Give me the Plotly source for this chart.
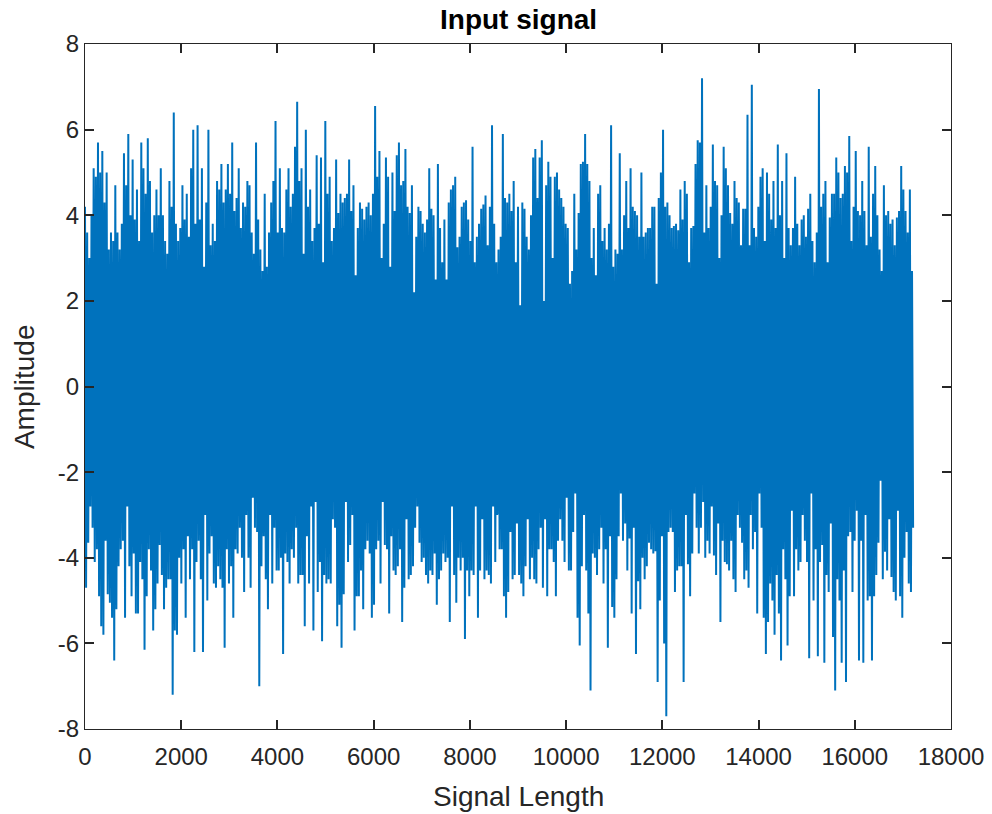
import numpy as np
import plotly.graph_objects as go

# Upper excursions of the signal, read column by column (every ~45 samples)
upper_peaks = [
    4.2, 3.6, 3.0, 4.0, 5.1, 4.9, 5.7, 5.0, 5.5, 4.3, 5.0, 3.2,
    3.6, 3.4, 4.7, 3.6, 3.2, 3.8, 5.45, 4.7, 5.9, 4.0, 5.3, 3.9,
    4.6, 3.4, 5.7, 5.1, 4.5, 5.8, 4.8, 3.6, 4.0, 4.6, 4.0, 5.1,
    4.0, 3.4, 3.1, 4.8, 4.2, 6.4, 3.8, 3.4, 3.7, 4.7, 3.9, 4.5,
    3.5, 5.1, 6.0, 3.8, 6.1, 3.9, 5.1, 2.8, 4.3, 6.0, 3.3, 3.8,
    3.4, 4.8, 4.6, 5.2, 4.3, 4.6, 5.2, 4.5, 5.7, 4.1, 4.4, 5.1,
    3.7, 4.3, 4.2, 4.8, 4.7, 3.6, 3.1, 5.7, 3.9, 3.2, 2.7, 4.5,
    2.8, 3.6, 4.3, 4.8, 6.2, 3.6, 5.1, 3.7, 3.6, 4.6, 5.1, 4.2,
    4.5, 5.6, 6.65, 4.8, 5.1, 3.1, 6.0, 4.2, 4.6, 3.4, 3.7, 5.4,
    3.8, 5.35, 2.9, 6.2, 4.5, 4.9, 3.4, 3.7, 5.3, 4.05, 4.5, 4.3,
    4.4, 4.5, 5.3, 4.1, 4.7, 2.6, 3.7, 4.3, 4.15, 3.9, 4.2, 4.3,
    4.0, 4.5, 6.55, 4.9, 5.5, 3.0, 3.8, 5.35, 4.9, 2.8, 5.0, 4.1,
    5.4, 5.7, 4.7, 4.8, 5.55, 4.2, 4.05, 4.7, 2.2, 3.5, 4.2, 4.1,
    3.8, 3.6, 3.9, 5.1, 4.15, 4.0, 2.5, 5.2, 3.7, 2.9, 3.9, 2.5,
    4.3, 4.6, 4.7, 4.9, 3.25, 3.5, 4.2, 4.3, 4.35, 3.9, 3.4, 5.6,
    2.9, 3.5, 3.8, 4.15, 4.25, 4.46, 3.3, 4.2, 6.1, 3.8, 2.9, 3.2,
    3.5, 5.9, 4.4, 4.3, 4.5, 4.1, 4.8, 2.9, 4.2, 1.9, 4.3, 4.15,
    3.5, 3.2, 4.0, 5.35, 5.55, 4.4, 5.35, 5.75, 2.0, 4.7, 5.25, 4.9,
    3.0, 4.9, 5.0, 4.6, 4.4, 4.2, 3.8, 3.7, 2.4, 2.7, 4.5, 3.2,
    4.05, 5.2, 5.25, 5.9, 5.2, 4.8, 3.0, 3.7, 2.6, 4.5, 4.7, 3.4,
    3.7, 3.2, 3.8, 6.1, 2.8, 3.2, 3.1, 5.45, 3.2, 4.0, 4.8, 3.7,
    5.1, 4.2, 4.1, 4.0, 3.5, 5.0, 3.5, 3.6, 3.7, 3.7, 4.2, 4.2,
    2.4, 4.4, 5.0, 6.0, 4.2, 4.3, 4.0, 3.7, 3.75, 3.8, 3.65, 4.6,
    3.9, 4.8, 4.5, 2.9, 3.7, 3.75, 5.2, 5.75, 5.7, 7.2, 3.6, 4.7,
    3.7, 4.2, 5.65, 4.8, 4.7, 3.0, 4.0, 5.6, 5.1, 4.7, 4.05, 3.8,
    4.8, 4.4, 4.3, 3.3, 4.15, 4.15, 6.35, 3.3, 7.05, 3.7, 3.5, 4.2,
    4.9, 5.1, 3.4, 5.0, 4.5, 3.9, 4.8, 3.7, 5.65, 4.0, 4.8, 3.0,
    5.45, 3.7, 3.3, 3.7, 4.9, 3.8, 3.3, 3.9, 4.0, 3.5, 4.15, 4.5,
    3.4, 2.9, 3.6, 6.95, 4.2, 4.5, 4.8, 2.9, 3.95, 4.5, 4.5, 5.35,
    5.0, 4.4, 4.5, 5.15, 5.0, 5.85, 3.4, 4.2, 5.5, 4.1, 4.0, 4.8,
    4.1, 3.3, 5.6, 3.5, 4.5, 5.15, 4.0, 3.2, 2.7, 4.7, 4.0, 4.1,
    3.8, 3.9, 3.3, 3.95, 4.1, 5.15, 4.6, 4.1, 3.6, 4.6, 2.7,
]

# Lower excursions of the signal, same columns
lower_peaks = [
    -4.7, -3.65, -2.8, -3.3, -4.1, -3.8, -4.9, -5.6, -5.8, -3.6, -4.85, -5.05,
    -5.4, -6.4, -5.2, -4.2, -3.8, -3.6, -5.4, -2.8, -4.2, -4.9, -3.9, -5.3,
    -5.3, -4.1, -4.5, -6.15, -4.9, -3.8, -4.3, -5.7, -5.2, -4.6, -3.7, -4.4,
    -5.2, -4.7, -4.5, -4.5, -7.2, -5.7, -5.8, -4.0, -4.6, -3.8, -5.4, -3.5,
    -4.5, -3.8, -6.2, -4.1, -3.6, -4.5, -6.2, -3.0, -5.0, -3.9, -3.5, -4.6,
    -4.7, -4.2, -4.5, -4.7, -6.1, -3.8, -4.6, -4.2, -5.4, -3.8, -3.9, -3.3,
    -4.0, -4.8, -3.0, -4.0, -4.7, -2.6, -3.3, -3.4, -7.0, -4.2, -3.5, -4.5,
    -5.2, -3.0, -4.6, -3.3, -4.3, -4.3, -4.0, -6.25, -3.9, -4.1, -4.6, -3.8,
    -4.0, -3.3, -4.6, -4.4, -4.4, -5.6, -3.5, -4.6, -2.8, -5.7, -2.7, -4.8,
    -4.1, -5.95, -4.4, -4.6, -4.5, -4.6, -3.1, -3.3, -5.6, -5.1, -6.1, -4.85,
    -2.7, -4.1, -3.7, -3.0, -5.7, -4.9, -4.9, -4.3, -5.2, -3.8, -3.6, -3.9,
    -5.4, -5.1, -3.8, -3.6, -4.6, -2.7, -3.7, -3.8, -5.3, -3.5, -4.3, -4.4,
    -4.2, -3.8, -5.5, -4.7, -3.1, -4.5, -4.4, -4.2, -3.3, -2.8, -3.65, -4.1,
    -4.0, -4.4, -4.6, -4.3, -4.4, -3.9, -5.1, -4.5, -4.3, -3.9, -4.1, -4.0,
    -5.5, -2.8, -4.4, -5.05, -4.0, -4.3, -4.0, -5.9, -4.3, -4.9, -4.3, -4.4,
    -2.8, -5.4, -4.3, -3.1, -4.5, -4.3, -4.4, -4.6, -2.8, -4.1, -3.0, -3.8,
    -3.8, -4.9, -5.4, -4.8, -3.4, -4.5, -4.4, -3.2, -4.4, -4.6, -4.9, -4.2,
    -3.1, -4.5, -4.0, -4.5, -4.6, -3.8, -3.3, -4.7, -3.1, -4.9, -3.8, -3.8,
    -4.1, -4.9, -3.6, -3.1, -3.6, -4.1, -2.6, -4.3, -4.3, -3.4, -2.5, -5.4,
    -6.05, -4.2, -3.0, -4.3, -5.3, -7.1, -3.9, -4.0, -4.4, -3.8, -3.3, -4.6,
    -3.8, -6.1, -3.5, -5.15, -5.4, -4.5, -3.5, -2.5, -3.6, -3.2, -4.3, -3.55,
    -5.3, -3.3, -6.25, -4.55, -5.2, -4.0, -4.5, -4.2, -3.65, -3.8, -3.9, -3.85,
    -6.9, -5.0, -3.5, -6.0, -7.7, -3.4, -3.3, -3.4, -4.8, -4.3, -4.2, -4.2,
    -6.9, -3.0, -4.15, -4.9, -3.9, -2.5, -3.3, -3.9, -3.3, -2.7, -4.0, -3.6,
    -3.9, -2.8, -3.95, -4.4, -3.2, -5.5, -3.6, -4.1, -4.15, -4.3, -3.6, -4.5,
    -4.8, -3.0, -3.3, -3.65, -4.5, -4.3, -4.7, -3.0, -3.8, -3.4, -5.3, -2.5,
    -3.3, -5.4, -6.25, -5.5, -4.6, -5.0, -5.8, -4.4, -5.3, -6.4, -3.8, -4.5,
    -6.05, -4.9, -2.9, -4.9, -3.8, -4.3, -4.1, -3.0, -3.6, -4.1, -6.35, -2.5,
    -5.0, -3.8, -6.3, -4.1, -3.7, -6.45, -4.4, -4.8, -3.2, -5.85, -7.1, -4.5,
    -5.0, -6.45, -4.3, -6.9, -3.5, -3.4, -4.8, -3.6, -2.9, -6.4, -3.6, -6.45,
    -3.0, -5.0, -4.9, -6.4, -4.9, -4.4, -3.65, -2.2, -4.5, -3.86, -4.3, -3.1,
    -4.45, -4.8, -5.0, -2.9, -4.9, -5.4, -4.0, -3.4, -4.6, -4.8, -3.3,
]

sample_step = 22.5  # samples between successive extremes
x_ticks = [0, 2000, 4000, 6000, 8000, 10000, 12000, 14000, 16000, 18000]
x_tick_text = ["0", "2000", "4000", "6000", "8000", "10000", "12000", "14000", "16000", "18000"]
y_ticks = [-8, -6, -4, -2, 0, 2, 4, 6, 8]
y_tick_text = ["-8", "-6", "-4", "-2", "0", "2", "4", "6", "8"]

n = min(len(upper_peaks), len(lower_peaks))
signal = np.empty(2 * n)
signal[0::2] = upper_peaks[:n]
signal[1::2] = lower_peaks[:n]
samples = np.arange(2 * n) * sample_step

AX = "#262626"
BLUE = "#0072BD"
FONT = "Liberation Sans, Arial, Helvetica, sans-serif"

fig = go.Figure()
fig.add_trace(go.Scatter(
    x=samples, y=signal, mode="lines",
    line=dict(color=BLUE, width=2.0, simplify=False),
    hoverinfo="skip", showlegend=False,
))

axis_common = dict(
    showgrid=False, zeroline=False, showline=True, linecolor=AX, linewidth=1.2,
    mirror="allticks", ticks="inside", ticklen=9, tickwidth=1.5, tickcolor=AX,
    tickfont=dict(family=FONT, size=24, color=AX), automargin=False,
)

fig.update_layout(
    width=992, height=814,
    margin=dict(l=85, r=41, t=44, b=85),
    paper_bgcolor="white", plot_bgcolor="white",
    font=dict(family=FONT, color=AX),
    xaxis=dict(range=[0, 18000], tickmode="array", tickvals=x_ticks, ticktext=x_tick_text,
               ticklabelstandoff=6, **axis_common),
    yaxis=dict(range=[-8, 8], tickmode="array", tickvals=y_ticks, ticktext=y_tick_text,
               **axis_common),
    annotations=[
        dict(text="<b>Input signal</b>", x=0.5, y=1.036, xref="paper", yref="paper",
             showarrow=False, xanchor="center", yanchor="middle",
             font=dict(family=FONT, size=28, color="#000000")),
        dict(text="Signal Length", x=0.5, y=-0.0985, xref="paper", yref="paper",
             showarrow=False, xanchor="center", yanchor="middle",
             font=dict(family=FONT, size=28, color=AX)),
        dict(text="Amplitude", x=-0.0698, y=0.5, xref="paper", yref="paper",
             showarrow=False, xanchor="center", yanchor="middle", textangle=-90,
             font=dict(family=FONT, size=28, color=AX)),
    ],
)

fig.write_html("out.html")
